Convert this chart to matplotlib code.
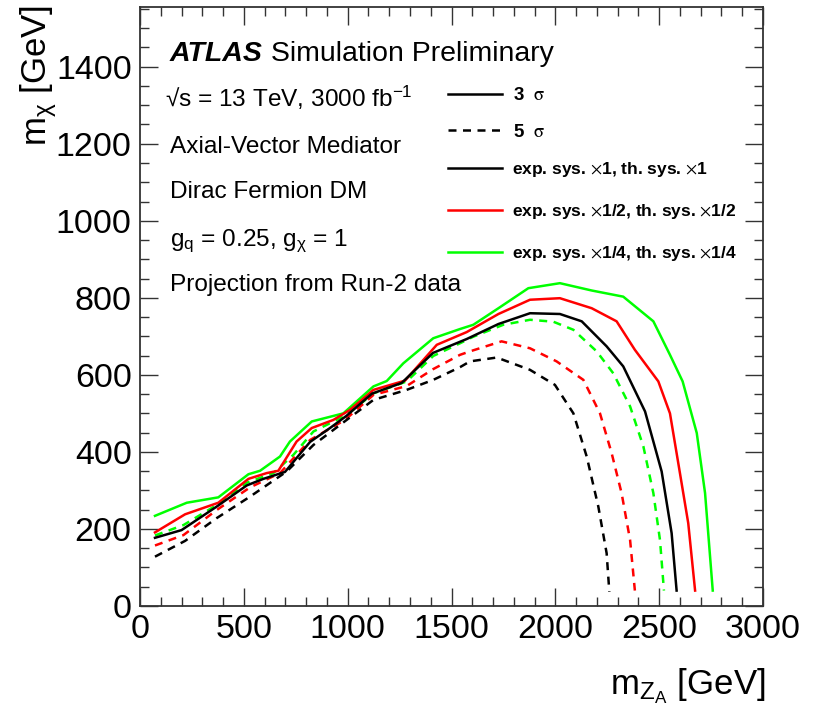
import matplotlib
matplotlib.use("Agg")
import matplotlib.pyplot as plt
from matplotlib.lines import Line2D
from matplotlib.ticker import MultipleLocator

plt.rcParams['font.family'] = ['Liberation Sans', 'DejaVu Sans']
plt.rcParams['mathtext.fontset'] = 'custom'
plt.rcParams['mathtext.rm'] = 'Liberation Sans'
plt.rcParams['mathtext.it'] = 'Liberation Sans:italic'
plt.rcParams['mathtext.bf'] = 'Liberation Sans:bold'

# m_ZA [GeV] / m_chi [GeV] contours, 3 sigma (solid) and 5 sigma (dashed)
x_3s_nom = [72, 200, 369, 514, 594, 698, 819, 915, 995, 1116, 1260, 1411, 1573, 1726, 1878, 2022, 2127, 2247, 2327, 2432, 2512, 2560, 2584]
y_3s_nom = [177, 197, 258, 313, 330, 348, 426, 462, 494, 551, 579, 657, 693, 732, 760, 758, 739, 674, 622, 505, 349, 189, 40]

x_3s_half = [72, 217, 377, 522, 610, 666, 754, 827, 931, 1011, 1124, 1276, 1429, 1573, 1726, 1878, 2022, 2175, 2295, 2383, 2496, 2552, 2600, 2640, 2673]
y_3s_half = [191, 238, 268, 330, 345, 351, 427, 462, 483, 509, 561, 585, 678, 711, 758, 795, 799, 773, 739, 665, 583, 500, 345, 215, 40]

x_3s_quart = [72, 225, 377, 522, 578, 674, 722, 827, 979, 1124, 1188, 1268, 1412, 1541, 1605, 1726, 1870, 2022, 2175, 2327, 2472, 2552, 2613, 2681, 2721, 2758]
y_3s_quart = [234, 268, 282, 342, 351, 388, 427, 479, 500, 570, 584, 630, 695, 719, 730, 773, 825, 838, 819, 803, 739, 652, 583, 449, 293, 40]

x_5s_nom = [72, 217, 369, 530, 706, 835, 995, 1124, 1284, 1412, 1541, 1589, 1718, 1878, 1998, 2087, 2151, 2207, 2247, 2260]
y_5s_nom = [128, 169, 228, 284, 349, 418, 483, 535, 561, 587, 620, 635, 645, 613, 574, 500, 388, 258, 137, 37]

x_5s_half = [72, 209, 369, 530, 674, 819, 987, 1124, 1284, 1412, 1541, 1589, 1741, 1878, 2006, 2135, 2215, 2271, 2319, 2360, 2383]
y_5s_half = [157, 184, 249, 308, 345, 431, 483, 548, 571, 615, 652, 661, 687, 669, 635, 587, 500, 397, 293, 171, 40]

x_5s_quart = [72, 209, 369, 514, 642, 738, 835, 995, 1124, 1284, 1412, 1541, 1605, 1749, 1878, 1990, 2087, 2199, 2279, 2360, 2424, 2472, 2504, 2523]
y_5s_quart = [183, 210, 262, 320, 345, 392, 453, 496, 552, 583, 649, 682, 699, 730, 743, 738, 717, 661, 604, 518, 414, 293, 171, 40]

info_lines = ["\u221as = 13 TeV, 3000 fb$^{\\mathregular{-1}}$",
              "Axial-Vector Mediator",
              "Dirac Fermion DM",
              "g$_\\mathregular{q}$ = 0.25, g$_\\mathregular{\\chi}$ = 1",
              "Projection from Run-2 data"]
sig_labels = ["3  $\\mathrm{\\sigma}$", "5  $\\mathrm{\\sigma}$"]
sys_labels = ["exp. sys. $\\times$1, th. sys. $\\times$1",
              "exp. sys. $\\times$1/2, th. sys. $\\times$1/2",
              "exp. sys. $\\times$1/4, th. sys. $\\times$1/4"]

red = '#ff0000'
green = '#00ff00'
lw = 1.8
dash = (3.2, 2.6)

fig = plt.figure(figsize=(8.17, 7.13), dpi=100)
ax = fig.add_axes([0.1714, 0.1501, 0.7625, 0.8401])

ax.plot(x_5s_quart, y_5s_quart, color=green, lw=lw, dashes=dash)
ax.plot(x_5s_half, y_5s_half, color=red, lw=lw, dashes=dash)
ax.plot(x_5s_nom, y_5s_nom, color='black', lw=lw, dashes=dash)
ax.plot(x_3s_quart, y_3s_quart, color=green, lw=lw)
ax.plot(x_3s_half, y_3s_half, color=red, lw=lw)
ax.plot(x_3s_nom, y_3s_nom, color='black', lw=lw)

ax.set_xlim(0, 3000)
ax.set_ylim(0, 1555)
ax.xaxis.set_major_locator(MultipleLocator(500))
ax.xaxis.set_minor_locator(MultipleLocator(100))
ax.yaxis.set_major_locator(MultipleLocator(200))
ax.yaxis.set_minor_locator(MultipleLocator(50))
ax.tick_params(which='both', direction='in', top=True, right=True, width=1.0, color='#333333')
ax.tick_params(which='major', length=13, labelsize=24.5)
ax.tick_params(which='minor', length=6.5)
ax.tick_params(axis='x', pad=6)
ax.tick_params(axis='y', pad=6)
for s in ax.spines.values():
    s.set_linewidth(1.3)
    s.set_color('#333333')

fig.text(0.047, 0.993, "m$_\\mathregular{\\chi}$ [GeV]", rotation=90, ha='center', va='top', fontsize=25)
fig.text(0.937, 0.038, "m$_\\mathregular{Z_{A}}$ [GeV]", ha='right', va='center', fontsize=25)

# ATLAS label
atl = ax.text(0.048, 0.91, "ATLAS", transform=ax.transAxes, fontsize=20.5,
              fontweight='bold', fontstyle='italic', va='baseline')
ax.annotate(" Simulation Preliminary", xy=(1, 0), xycoords=atl, fontsize=20.5, va='bottom')

info_y = [0.833, 0.756, 0.681, 0.600, 0.526]
info_x = [0.040, 0.048, 0.048, 0.048, 0.048]
for t, xx, yy in zip(info_lines, info_x, info_y):
    ax.text(xx, yy, t, transform=ax.transAxes, fontsize=17.6, va='baseline')

h1 = [Line2D([], [], color='black', lw=lw), Line2D([], [], color='black', lw=lw, dashes=dash)]
leg1 = ax.legend(h1, sig_labels, loc='upper left', bbox_to_anchor=(0.494, 0.866),
                 frameon=False, borderpad=0, borderaxespad=0, handlelength=2.9,
                 handletextpad=0.6, labelspacing=1.02,
                 prop={'weight': 'bold', 'size': 13.5})
for t in leg1.get_texts():
    t.set_math_fontfamily('stix')
ax.add_artist(leg1)

h2 = [Line2D([], [], color='black', lw=lw), Line2D([], [], color=red, lw=lw),
      Line2D([], [], color=green, lw=lw)]
leg2 = ax.legend(h2, sys_labels, loc='upper left', bbox_to_anchor=(0.494, 0.745),
                 frameon=False, borderpad=0, borderaxespad=0, handlelength=3.1,
                 handletextpad=0.6, labelspacing=1.34,
                 prop={'weight': 'bold', 'size': 12.5})
for t in leg2.get_texts():
    t.set_math_fontfamily('stix')

fig.savefig("out.png", dpi=100)
